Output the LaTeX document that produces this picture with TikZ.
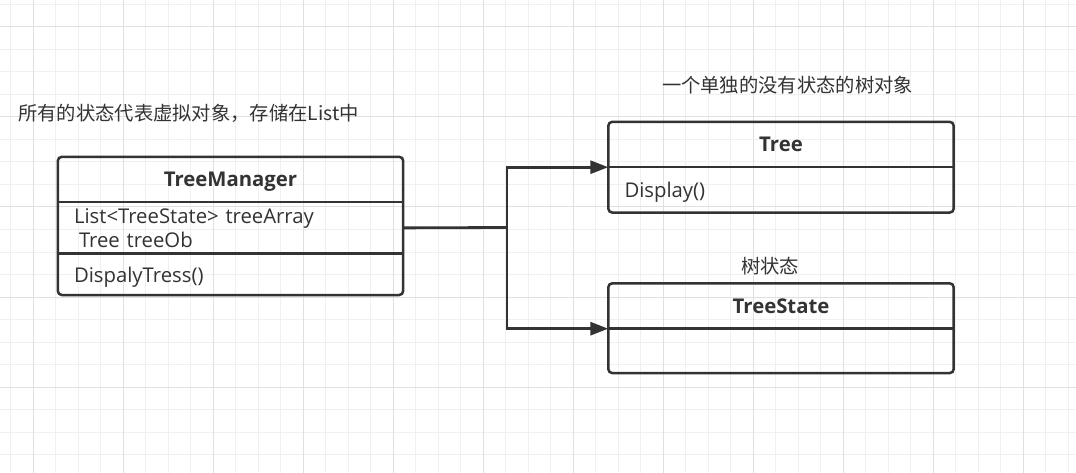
\documentclass[tikz,border=0pt]{standalone}
\usepackage{fontspec}
\setmainfont{Open Sans}
\newfontfamily\cjk{Noto Sans CJK SC}
\usetikzlibrary{arrows.meta}
\definecolor{ink}{HTML}{333333}
\definecolor{gridminor}{HTML}{F0F0F0}
\definecolor{gridmajor}{HTML}{E0E0E0}

\begin{document}
\begin{tikzpicture}[x=1pt,y=-1pt]
\useasboundingbox (0,0) rectangle (1076,473);
\fill[white] (0,0) rectangle (1076,473);

% background grid
\foreach \i in {0,...,47}
    \draw[gridminor,line width=1pt] (10.5+22.5*\i,0) -- (10.5+22.5*\i,473);
\foreach \j in {0,...,20}
    \draw[gridminor,line width=1pt] (0,4.5+22.5*\j) -- (1076,4.5+22.5*\j);
\foreach \i in {0,...,11}
    \draw[gridmajor,line width=1pt] (33+90*\i,0) -- (33+90*\i,473);
\foreach \j in {0,...,4}
    \draw[gridmajor,line width=1pt] (0,27+90*\j) -- (1076,27+90*\j);

\begin{scope}[every node/.style={inner sep=0pt,text=ink,
                  font=\fontsize{20.3}{24}\selectfont},
              hdr/.style={minimum width=345pt,minimum height=45pt,text depth=0pt,
                  font=\fontsize{20.3}{24}\selectfont\bfseries},
              part/.style={text width=313pt,inner xsep=16pt,align=left},
              note/.style={font=\cjk\fontsize{19.3}{24}\selectfont}]
    \node [hdr] (mgr) at (230.5,179.5) {TreeManager};
    \node [part,minimum height=51pt,anchor=north] (mgratt) at (mgr.south)
        {List<TreeState> treeArray\\\hspace*{5pt}Tree treeOb};
    \node [part,minimum height=41pt,text depth=0pt,anchor=north] (mgrop) at (mgratt.south)
        {DispalyTress()};

    \node [hdr] (tree) at (781,144.5) {Tree};
    \node [part,minimum height=45pt,text depth=0pt,anchor=north] (treeop) at (tree.south)
        {Display()};

    \node [hdr] (state) at (781,306) {TreeState};
    \node [part,minimum height=44pt,anchor=north] (stateop) at (state.south) {};

    \node [note,anchor=west] (notemgr) at (18,113) {所有的状态代表虚拟对象，存储在List中};
    \node [note] (notetree) at (787.5,85) {一个单独的没有状态的树对象};
    \node [note] (notestate) at (770,266) {树状态};
\end{scope}

\begin{scope}[every path/.style={draw=ink,line width=2.5pt,rounded corners=4pt}]
    \path (mgr.north west) rectangle (mgrop.south east);
    \path [rounded corners=0pt] (mgr.south west) -- (mgr.south east);
    \path [rounded corners=0pt] (mgratt.south west) -- (mgratt.south east);
    \path (tree.north west) rectangle (treeop.south east);
    \path [rounded corners=0pt] (tree.south west) -- (tree.south east);
    \path (state.north west) rectangle (stateop.south east);
    \path [rounded corners=0pt] (state.south west) -- (state.south east);
\end{scope}

\coordinate (fork) at (507,227.5);
\begin{scope}[>={Triangle[length=18pt,width=13pt]},
              every path/.style={draw=ink,line width=2.8pt}]
    \path (mgratt.east) -- (fork);
    \path [->] (fork) |- (tree.south west);
    \path [->] (fork) |- (state.south west);
\end{scope}
\end{tikzpicture}
\end{document}
